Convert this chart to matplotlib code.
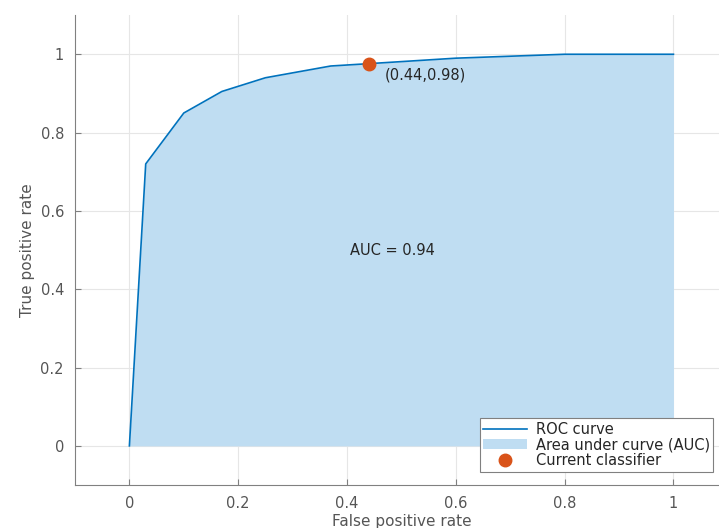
import numpy as np
import matplotlib.pyplot as plt

# Pontos da curva ROC
fpr = [0, 0.03, 0.10, 0.17, 0.25, 0.37, 0.44, 0.60, 0.80, 1.0]
tpr = [0, 0.72, 0.85, 0.905, 0.94, 0.97, 0.976, 0.99, 1.0, 1.0]

# Classificador atual e AUC
ponto_x = 0.44
ponto_y = 0.976
rotulo_ponto = "(0.44,0.98)"
auc = 0.94

ticks = [0, 0.2, 0.4, 0.6, 0.8, 1]
tick_labels = ["0", "0.2", "0.4", "0.6", "0.8", "1"]

plt.rcParams['font.family'] = ['DejaVu Sans']
cinza = '#555555'

fig = plt.figure(figsize=(7.19, 5.28), dpi=100)
ax = fig.add_axes([0.1043, 0.0814, 0.908, 0.890])

ax.fill_between(fpr, tpr, 0, color='#BFDDF2', linewidth=0,
                label="Area under curve (AUC)", zorder=1)
ax.plot(fpr, tpr, color='#0072BD', linewidth=1.2, label="ROC curve", zorder=2)
ax.plot(ponto_x, ponto_y, 'o', color='#D95319', markersize=9,
        label="Current classifier", zorder=3)

ax.text(ponto_x + 0.03, ponto_y - 0.03, rotulo_ponto, fontsize=10.5,
        color='#262626', va='center', ha='left')
ax.text(0.405, 0.5, f"AUC = {auc:.2f}", fontsize=10.5, color='#262626',
        va='center', ha='left')

ax.set_xlim(-0.1, 1.1)
ax.set_ylim(-0.1, 1.1)
ax.set_xticks(ticks)
ax.set_xticklabels(tick_labels)
ax.set_yticks(ticks)
ax.set_yticklabels(tick_labels)
ax.grid(True, color='#e6e6e6', linewidth=0.8)
ax.set_axisbelow(True)

for lado in ['top', 'right']:
    ax.spines[lado].set_visible(False)
for lado in ['left', 'bottom']:
    ax.spines[lado].set_color('#808080')
    ax.spines[lado].set_linewidth(0.8)

ax.tick_params(direction='in', length=4, color='#808080', labelcolor=cinza,
               labelsize=10.5, pad=8)

ax.set_xlabel("False positive rate", fontsize=11, color=cinza, labelpad=2)
ax.set_ylabel("True positive rate", fontsize=11, color=cinza, labelpad=4)

handles, labels = ax.get_legend_handles_labels()
ordem = [labels.index("ROC curve"), labels.index("Area under curve (AUC)"),
         labels.index("Current classifier")]
leg = ax.legend([handles[i] for i in ordem], [labels[i] for i in ordem],
                loc='lower right', bbox_to_anchor=(0.978, 0.028),
                fontsize=10.5, frameon=True, fancybox=False,
                edgecolor='#808080', framealpha=1, borderpad=0.25,
                labelspacing=0.05, handlelength=3.0, handletextpad=0.6,
                borderaxespad=0)
leg.get_frame().set_linewidth(0.8)
for t in leg.get_texts():
    t.set_color('#262626')

plt.savefig("out.png", dpi=100)
